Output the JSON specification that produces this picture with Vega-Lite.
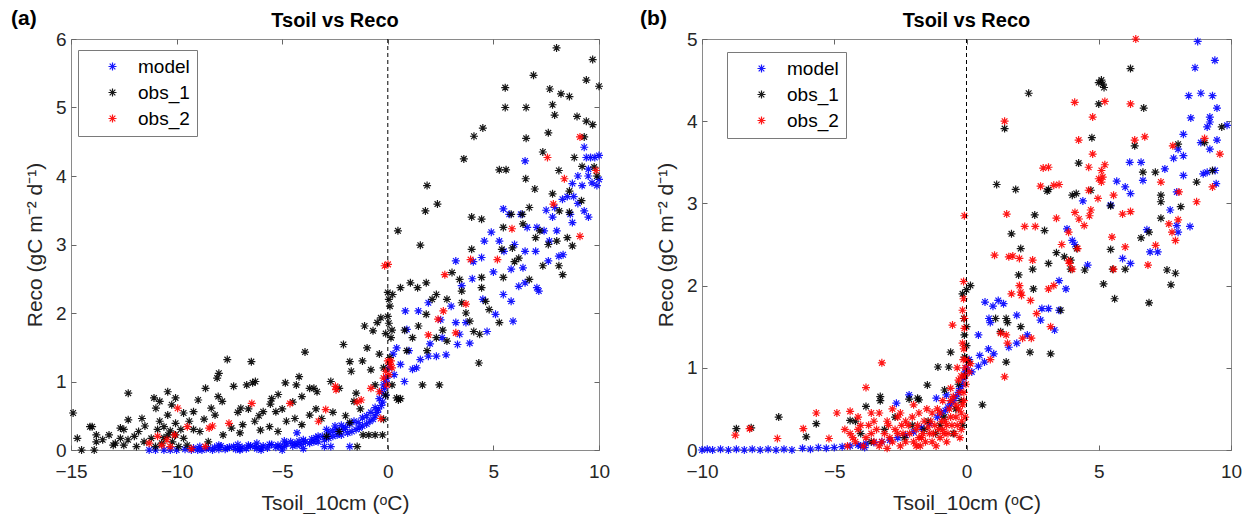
{
"$schema": "https://vega.github.io/schema/vega-lite/v6.json",
"padding": {"left": 10, "top": 7, "right": 0, "bottom": 0},
"config": {
 "font": "Liberation Sans",
 "view": {"stroke": "#8a8a8a", "strokeWidth": 1},
 "axis": {"grid": false, "domain": false, "tickSize": -5, "tickColor": "#666666", "labelFontSize": 19, "labelColor": "#262626", "labelFlush": false, "labelOverlap": false, "titleFontSize": 21, "titleFontWeight": "normal", "titleColor": "#262626"},
 "axisX": {"labelPadding": 17, "titlePadding": 11},
 "axisY": {"labelPadding": 10, "titlePadding": 10},
 "legend": {"orient": "none", "strokeColor": "#7a7a7a", "fillColor": "#ffffff", "padding": 7, "symbolOffset": 18, "labelOffset": 16, "labelFontSize": 19, "labelColor": "#000000", "rowPadding": 6, "symbolSize": 64, "symbolStrokeWidth": 1.2, "symbolType": "M-1,0L1,0M0,-1L0,1M-0.71,-0.71L0.71,0.71M-0.71,0.71L0.71,-0.71"}
},
"spacing": 28,
"resolve": {"scale": {"color": "independent"}, "legend": {"color": "independent"}},
"datasets": {
"a": [
{"s":"model","x":9.3,"y":4.42},{"s":"model","x":9.4,"y":4.27},{"s":"model","x":9.6,"y":4.27},{"s":"model","x":9.8,"y":4.27},{"s":"model","x":10.0,"y":4.3},{"s":"model","x":9.49,"y":4.0},{"s":"model","x":9.67,"y":3.9},{"s":"model","x":9.9,"y":3.86},{"s":"model","x":9.2,"y":3.86},{"s":"model","x":8.74,"y":3.89},{"s":"model","x":8.27,"y":3.66},{"s":"model","x":7.9,"y":3.54},{"s":"model","x":7.8,"y":3.4},{"s":"model","x":9.3,"y":3.49},{"s":"model","x":9.5,"y":3.4},{"s":"model","x":8.64,"y":3.44},{"s":"model","x":8.74,"y":3.32},{"s":"model","x":7.06,"y":3.25},{"s":"model","x":7.4,"y":3.2},{"s":"model","x":7.65,"y":3.05},{"s":"model","x":6.6,"y":3.25},{"s":"model","x":6.3,"y":3.44},{"s":"model","x":6.5,"y":4.22},{"s":"model","x":5.47,"y":3.52},{"s":"model","x":5.75,"y":3.44},{"s":"model","x":4.9,"y":3.18},{"s":"model","x":4.57,"y":3.05},{"s":"model","x":5.28,"y":3.05},{"s":"model","x":3.22,"y":2.76},{"s":"model","x":4.44,"y":2.81},{"s":"model","x":4.05,"y":2.75},{"s":"model","x":5.84,"y":2.64},{"s":"model","x":6.4,"y":2.66},{"s":"model","x":6.2,"y":2.39},{"s":"model","x":6.5,"y":2.44},{"s":"model","x":7.06,"y":2.37},{"s":"model","x":7.15,"y":2.32},{"s":"model","x":7.6,"y":2.76},{"s":"model","x":8.1,"y":2.83},{"s":"model","x":8.3,"y":2.85},{"s":"model","x":5.47,"y":2.27},{"s":"model","x":5.84,"y":2.17},{"s":"model","x":5.93,"y":1.88},{"s":"model","x":5.1,"y":1.98},{"s":"model","x":4.7,"y":1.73},{"s":"model","x":3.22,"y":1.86},{"s":"model","x":3.7,"y":1.86},{"s":"model","x":3.4,"y":1.69},{"s":"model","x":2.57,"y":1.64},{"s":"model","x":3.3,"y":1.54},{"s":"model","x":3.88,"y":1.56},{"s":"model","x":2.76,"y":1.39},{"s":"model","x":2.3,"y":1.37},{"s":"model","x":1.92,"y":1.37},{"s":"model","x":1.54,"y":1.32},{"s":"model","x":1.36,"y":1.2},{"s":"model","x":1.17,"y":1.18},{"s":"model","x":0.79,"y":1.0},{"s":"model","x":0.83,"y":2.03},{"s":"model","x":1.45,"y":2.03},{"s":"model","x":1.92,"y":2.15},{"s":"model","x":0.9,"y":1.76},{"s":"model","x":0.42,"y":1.49},{"s":"model","x":0.25,"y":1.4},{"s":"model","x":0.05,"y":1.2},{"s":"model","x":-0.05,"y":1.05},{"s":"model","x":-0.15,"y":0.9},{"s":"model","x":-0.25,"y":0.7},{"s":"model","x":-0.45,"y":0.6},{"s":"model","x":-0.6,"y":0.5},{"s":"model","x":-0.85,"y":0.42},{"s":"model","x":-1.2,"y":0.35},{"s":"model","x":-1.5,"y":0.3},{"s":"model","x":-1.9,"y":0.25},{"s":"model","x":-2.2,"y":0.22},{"s":"model","x":-2.6,"y":0.2},{"s":"model","x":-3.0,"y":0.15},{"s":"model","x":-3.3,"y":0.12},{"s":"model","x":-3.7,"y":0.1},{"s":"model","x":-4.1,"y":0.08},{"s":"model","x":-4.5,"y":0.06},{"s":"model","x":-4.9,"y":0.05},{"s":"model","x":-5.3,"y":0.04},{"s":"model","x":-5.7,"y":0.03},{"s":"model","x":-6.2,"y":0.02},{"s":"model","x":-6.7,"y":0.02},{"s":"model","x":-7.2,"y":0.01},{"s":"model","x":-7.7,"y":0.01},{"s":"model","x":-8.3,"y":0.0},{"s":"model","x":-8.8,"y":0.0},{"s":"model","x":-9.3,"y":0.0},{"s":"model","x":-10.0,"y":0.0},{"s":"model","x":-10.6,"y":0.0},{"s":"model","x":-1.8,"y":0.05},{"s":"model","x":-0.1,"y":0.8},{"s":"model","x":-0.3,"y":0.65},{"s":"model","x":-0.5,"y":0.55},{"s":"model","x":-0.7,"y":0.45},{"s":"model","x":-1.0,"y":0.38},{"s":"model","x":-1.35,"y":0.32},{"s":"model","x":-1.7,"y":0.27},{"s":"model","x":-2.4,"y":0.22},{"s":"model","x":-2.8,"y":0.17},{"s":"model","x":-3.5,"y":0.12},{"s":"model","x":-4.3,"y":0.07},{"s":"model","x":-5.1,"y":0.05},{"s":"model","x":-6.0,"y":0.03},{"s":"model","x":-7.0,"y":0.02},{"s":"model","x":-8.0,"y":0.01},{"s":"model","x":-9.0,"y":0.0},{"s":"model","x":-2.9,"y":0.3},{"s":"model","x":-2.5,"y":0.35},{"s":"model","x":-2.1,"y":0.3},{"s":"model","x":-3.3,"y":0.2},{"s":"model","x":-4.0,"y":0.15},{"s":"model","x":-4.6,"y":0.12},{"s":"model","x":-5.5,"y":0.08},{"s":"model","x":-6.5,"y":0.06},{"s":"model","x":-7.5,"y":0.04},{"s":"model","x":-8.5,"y":0.03},{"s":"model","x":-3.0,"y":0.05},{"s":"model","x":-5.0,"y":0.0},{"s":"model","x":-6.0,"y":0.0},{"s":"model","x":-7.0,"y":0.0},{"s":"model","x":-4.0,"y":0.02},{"s":"model","x":0.3,"y":1.1},{"s":"model","x":0.6,"y":1.25},{"s":"model","x":1.0,"y":1.45},{"s":"model","x":2.0,"y":1.55},{"s":"model","x":2.5,"y":1.9},{"s":"model","x":3.0,"y":2.1},{"s":"model","x":3.5,"y":2.4},{"s":"model","x":4.0,"y":2.5},{"s":"model","x":4.5,"y":2.2},{"s":"model","x":5.0,"y":2.6},{"s":"model","x":5.5,"y":2.9},{"s":"model","x":6.0,"y":3.0},{"s":"model","x":6.5,"y":2.9},{"s":"model","x":7.0,"y":2.9},{"s":"model","x":7.5,"y":3.5},{"s":"model","x":8.0,"y":3.2},{"s":"model","x":8.5,"y":3.7},{"s":"model","x":9.0,"y":3.6},{"s":"model","x":9.5,"y":4.1},{"s":"model","x":10.0,"y":3.95},{"s":"model","x":9.0,"y":4.0},{"s":"model","x":8.8,"y":3.7},
{"s":"model","x":-9.2,"y":0.03},{"s":"model","x":-8.9,"y":0.05},{"s":"model","x":-8.6,"y":0.02},{"s":"model","x":-8.2,"y":0.04},{"s":"model","x":-7.9,"y":0.06},{"s":"model","x":-7.6,"y":0.03},{"s":"model","x":-7.3,"y":0.05},{"s":"model","x":-6.9,"y":0.04},{"s":"model","x":-6.6,"y":0.07},{"s":"model","x":-6.3,"y":0.05},{"s":"model","x":-5.9,"y":0.06},{"s":"model","x":-5.6,"y":0.08},{"s":"model","x":-5.2,"y":0.07},{"s":"model","x":-4.8,"y":0.09},{"s":"model","x":-4.4,"y":0.1},{"s":"model","x":-4.2,"y":0.13},{"s":"model","x":-3.9,"y":0.12},{"s":"model","x":-3.6,"y":0.16},{"s":"model","x":-3.4,"y":0.18},{"s":"model","x":-3.1,"y":0.2},{"s":"model","x":-2.8,"y":0.25},{"s":"model","x":-2.6,"y":0.28},{"s":"model","x":-2.4,"y":0.3},{"s":"model","x":-2.2,"y":0.36},{"s":"model","x":-2.0,"y":0.33},{"s":"model","x":-1.8,"y":0.38},{"s":"model","x":-1.6,"y":0.42},{"s":"model","x":-1.4,"y":0.4},{"s":"model","x":-1.2,"y":0.47},{"s":"model","x":-1.0,"y":0.5},{"s":"model","x":-0.8,"y":0.55},{"s":"model","x":-0.6,"y":0.62},{"s":"model","x":-0.4,"y":0.75},{"s":"model","x":-0.3,"y":0.85},{"s":"model","x":-0.2,"y":0.95},{"s":"model","x":-0.1,"y":1.0},{"s":"model","x":-4.3,"y":0.25},{"s":"model","x":-2.7,"y":0.05},{"s":"model","x":-4.9,"y":0.13},{"s":"model","x":-6.2,"y":0.1},{"s":"model","x":-7.1,"y":0.08},{"s":"model","x":-8.0,"y":0.07},{"s":"model","x":-9.6,"y":0.01},{"s":"model","x":-10.3,"y":0.0},{"s":"model","x":-11.0,"y":0.0},{"s":"model","x":-11.3,"y":0.0},
{"s":"obs_1","x":7.99,"y":5.87},{"s":"obs_1","x":9.7,"y":5.7},{"s":"obs_1","x":6.9,"y":5.47},{"s":"obs_1","x":5.56,"y":5.29},{"s":"obs_1","x":7.67,"y":5.27},{"s":"obs_1","x":9.4,"y":5.4},{"s":"obs_1","x":10.0,"y":5.31},{"s":"obs_1","x":5.56,"y":5.0},{"s":"obs_1","x":6.55,"y":5.0},{"s":"obs_1","x":8.2,"y":5.2},{"s":"obs_1","x":8.6,"y":5.16},{"s":"obs_1","x":7.8,"y":5.04},{"s":"obs_1","x":7.9,"y":4.89},{"s":"obs_1","x":8.96,"y":4.87},{"s":"obs_1","x":9.4,"y":4.8},{"s":"obs_1","x":9.7,"y":4.75},{"s":"obs_1","x":4.5,"y":4.7},{"s":"obs_1","x":4.08,"y":4.58},{"s":"obs_1","x":7.6,"y":4.63},{"s":"obs_1","x":6.55,"y":4.55},{"s":"obs_1","x":9.3,"y":4.57},{"s":"obs_1","x":3.6,"y":4.25},{"s":"obs_1","x":7.34,"y":4.35},{"s":"obs_1","x":8.83,"y":4.27},{"s":"obs_1","x":5.28,"y":4.09},{"s":"obs_1","x":5.6,"y":4.09},{"s":"obs_1","x":8.1,"y":4.08},{"s":"obs_1","x":6.53,"y":3.96},{"s":"obs_1","x":9.2,"y":4.14},{"s":"obs_1","x":9.77,"y":4.13},{"s":"obs_1","x":9.9,"y":4.0},{"s":"obs_1","x":1.86,"y":3.86},{"s":"obs_1","x":2.35,"y":3.59},{"s":"obs_1","x":1.78,"y":3.49},{"s":"obs_1","x":6.96,"y":3.81},{"s":"obs_1","x":7.8,"y":3.74},{"s":"obs_1","x":8.6,"y":3.78},{"s":"obs_1","x":9.17,"y":3.64},{"s":"obs_1","x":3.97,"y":3.4},{"s":"obs_1","x":4.44,"y":3.37},{"s":"obs_1","x":6.37,"y":3.44},{"s":"obs_1","x":6.7,"y":3.54},{"s":"obs_1","x":5.84,"y":3.44},{"s":"obs_1","x":8.12,"y":3.49},{"s":"obs_1","x":8.6,"y":3.47},{"s":"obs_1","x":0.48,"y":3.2},{"s":"obs_1","x":5.47,"y":3.25},{"s":"obs_1","x":7.2,"y":3.2},{"s":"obs_1","x":7.0,"y":3.1},{"s":"obs_1","x":1.54,"y":2.99},{"s":"obs_1","x":3.97,"y":2.93},{"s":"obs_1","x":5.4,"y":2.93},{"s":"obs_1","x":8.0,"y":3.05},{"s":"obs_1","x":8.74,"y":2.98},{"s":"obs_1","x":8.1,"y":2.69},{"s":"obs_1","x":7.34,"y":2.69},{"s":"obs_1","x":8.28,"y":2.56},{"s":"obs_1","x":5.47,"y":2.52},{"s":"obs_1","x":6.7,"y":2.49},{"s":"obs_1","x":0.6,"y":2.37},{"s":"obs_1","x":1.07,"y":2.44},{"s":"obs_1","x":1.41,"y":2.37},{"s":"obs_1","x":1.82,"y":2.44},{"s":"obs_1","x":3.04,"y":2.59},{"s":"obs_1","x":3.4,"y":2.49},{"s":"obs_1","x":4.44,"y":2.52},{"s":"obs_1","x":3.5,"y":2.32},{"s":"obs_1","x":2.3,"y":2.27},{"s":"obs_1","x":2.1,"y":2.2},{"s":"obs_1","x":2.8,"y":2.2},{"s":"obs_1","x":4.44,"y":2.37},{"s":"obs_1","x":4.63,"y":2.17},{"s":"obs_1","x":3.5,"y":2.15},{"s":"obs_1","x":1.82,"y":1.98},{"s":"obs_1","x":1.45,"y":1.81},{"s":"obs_1","x":5.28,"y":1.86},{"s":"obs_1","x":3.88,"y":1.88},{"s":"obs_1","x":4.07,"y":1.73},{"s":"obs_1","x":4.35,"y":1.69},{"s":"obs_1","x":2.8,"y":1.59},{"s":"obs_1","x":1.17,"y":1.64},{"s":"obs_1","x":2.3,"y":1.64},{"s":"obs_1","x":4.31,"y":1.27},{"s":"obs_1","x":1.86,"y":1.45},{"s":"obs_1","x":1.64,"y":0.95},{"s":"obs_1","x":2.44,"y":0.95},{"s":"obs_1","x":0.8,"y":1.75},{"s":"obs_1","x":6.0,"y":2.75},{"s":"obs_1","x":5.9,"y":2.95},{"s":"obs_1","x":6.4,"y":3.3},{"s":"obs_1","x":7.6,"y":3.0},{"s":"obs_1","x":8.5,"y":3.1},{"s":"obs_1","x":6.2,"y":2.8},{"s":"obs_1","x":4.8,"y":2.05},{"s":"obs_1","x":3.7,"y":2.0},{"s":"obs_1","x":2.6,"y":1.75},{"s":"obs_1","x":0.9,"y":1.45},{"s":"obs_1","x":0.6,"y":0.75},
{"s":"obs_1","x":0.23,"y":2.27},{"s":"obs_1","x":0.0,"y":2.3},{"s":"obs_1","x":0.05,"y":2.2},{"s":"obs_1","x":0.1,"y":2.1},{"s":"obs_1","x":0.0,"y":1.95},{"s":"obs_1","x":0.05,"y":1.85},{"s":"obs_1","x":0.2,"y":1.75},{"s":"obs_1","x":0.15,"y":1.64},{"s":"obs_1","x":-0.1,"y":1.7},{"s":"obs_1","x":-0.33,"y":1.93},{"s":"obs_1","x":-0.5,"y":1.86},{"s":"obs_1","x":-0.7,"y":1.74},{"s":"obs_1","x":-1.1,"y":1.81},{"s":"obs_1","x":-0.98,"y":1.49},{"s":"obs_1","x":-2.1,"y":1.54},{"s":"obs_1","x":-0.8,"y":1.17},{"s":"obs_1","x":-1.8,"y":1.29},{"s":"obs_1","x":-1.73,"y":1.15},{"s":"obs_1","x":-1.2,"y":1.3},{"s":"obs_1","x":-1.5,"y":0.83},{"s":"obs_1","x":-1.17,"y":0.22},{"s":"obs_1","x":-0.9,"y":0.22},{"s":"obs_1","x":-0.6,"y":0.22},{"s":"obs_1","x":-0.25,"y":0.22},{"s":"obs_1","x":-1.45,"y":0.05},{"s":"obs_1","x":-0.2,"y":0.45},{"s":"obs_1","x":-0.1,"y":0.8},{"s":"obs_1","x":0.2,"y":0.95},{"s":"obs_1","x":0.42,"y":0.76},{"s":"obs_1","x":0.5,"y":0.73},{"s":"obs_1","x":-2.7,"y":1.0},{"s":"obs_1","x":-2.3,"y":0.9},{"s":"obs_1","x":-1.6,"y":0.71},{"s":"obs_1","x":-0.4,"y":1.4},{"s":"obs_1","x":-0.2,"y":1.2},{"s":"obs_1","x":0.1,"y":1.35},{"s":"obs_1","x":-0.6,"y":0.95},{"s":"obs_1","x":-1.3,"y":0.6},{"s":"obs_1","x":-2.0,"y":0.5},{"s":"obs_1","x":-1.8,"y":0.4},{"s":"obs_1","x":-2.6,"y":0.55},
{"s":"obs_1","x":-3.92,"y":1.43},{"s":"obs_1","x":-4.2,"y":1.07},{"s":"obs_1","x":-4.33,"y":0.95},{"s":"obs_1","x":-4.85,"y":0.98},{"s":"obs_1","x":-3.7,"y":0.9},{"s":"obs_1","x":-3.5,"y":0.9},{"s":"obs_1","x":-3.35,"y":0.85},{"s":"obs_1","x":-4.07,"y":0.78},{"s":"obs_1","x":-5.19,"y":0.81},{"s":"obs_1","x":-5.5,"y":0.75},{"s":"obs_1","x":-5.56,"y":0.67},{"s":"obs_1","x":-5.9,"y":0.56},{"s":"obs_1","x":-5.3,"y":0.56},{"s":"obs_1","x":-6.4,"y":0.98},{"s":"obs_1","x":-6.46,"y":1.29},{"s":"obs_1","x":-6.27,"y":1.0},{"s":"obs_1","x":-6.68,"y":0.95},{"s":"obs_1","x":-6.96,"y":0.61},{"s":"obs_1","x":-7.1,"y":0.55},{"s":"obs_1","x":-7.6,"y":1.32},{"s":"obs_1","x":-7.3,"y":0.93},{"s":"obs_1","x":-8.08,"y":1.05},{"s":"obs_1","x":-8.0,"y":1.12},{"s":"obs_1","x":-8.63,"y":0.9},{"s":"obs_1","x":-8.03,"y":0.78},{"s":"obs_1","x":-7.84,"y":0.71},{"s":"obs_1","x":-8.36,"y":0.61},{"s":"obs_1","x":-8.18,"y":0.51},{"s":"obs_1","x":-8.98,"y":0.73},{"s":"obs_1","x":-9.2,"y":0.56},{"s":"obs_1","x":-9.4,"y":0.42},{"s":"obs_1","x":-9.67,"y":0.54},{"s":"obs_1","x":-10.05,"y":0.76},{"s":"obs_1","x":-10.42,"y":0.85},{"s":"obs_1","x":-10.23,"y":0.66},{"s":"obs_1","x":-10.42,"y":0.51},{"s":"obs_1","x":-10.8,"y":0.71},{"s":"obs_1","x":-10.98,"y":0.61},{"s":"obs_1","x":-11.07,"y":0.76},{"s":"obs_1","x":-10.8,"y":0.42},{"s":"obs_1","x":-10.6,"y":0.34},{"s":"obs_1","x":-10.05,"y":0.39},{"s":"obs_1","x":-10.3,"y":0.28},{"s":"obs_1","x":-11.64,"y":0.46},{"s":"obs_1","x":-12.29,"y":0.83},{"s":"obs_1","x":-12.29,"y":0.44},{"s":"obs_1","x":-11.8,"y":0.27},{"s":"obs_1","x":-12.66,"y":0.32},{"s":"obs_1","x":-13.2,"y":0.22},{"s":"obs_1","x":-12.66,"y":0.17},{"s":"obs_1","x":-12.3,"y":0.15},{"s":"obs_1","x":-13.8,"y":0.12},{"s":"obs_1","x":-14.0,"y":0.34},{"s":"obs_1","x":-14.1,"y":0.34},{"s":"obs_1","x":-13.8,"y":0.22},{"s":"obs_1","x":-14.7,"y":0.17},{"s":"obs_1","x":-14.9,"y":0.54},{"s":"obs_1","x":-14.5,"y":0.0},{"s":"obs_1","x":-13.9,"y":0.0},{"s":"obs_1","x":-13.0,"y":0.07},{"s":"obs_1","x":-12.5,"y":0.07},{"s":"obs_1","x":-11.54,"y":0.12},{"s":"obs_1","x":-11.2,"y":0.17},{"s":"obs_1","x":-10.4,"y":0.22},{"s":"obs_1","x":-10.05,"y":0.22},{"s":"obs_1","x":-9.67,"y":0.17},{"s":"obs_1","x":-9.5,"y":0.07},{"s":"obs_1","x":-8.9,"y":0.27},{"s":"obs_1","x":-8.5,"y":0.12},{"s":"obs_1","x":-7.8,"y":0.22},{"s":"obs_1","x":-7.4,"y":0.32},{"s":"obs_1","x":-6.87,"y":0.37},{"s":"obs_1","x":-6.3,"y":0.42},{"s":"obs_1","x":-6.03,"y":0.29},{"s":"obs_1","x":-5.6,"y":0.34},{"s":"obs_1","x":-5.2,"y":0.27},{"s":"obs_1","x":-4.8,"y":0.42},{"s":"obs_1","x":-4.4,"y":0.46},{"s":"obs_1","x":-4.07,"y":0.37},{"s":"obs_1","x":-3.7,"y":0.51},{"s":"obs_1","x":-3.13,"y":0.46},{"s":"obs_1","x":-2.9,"y":0.2},{"s":"obs_1","x":-2.3,"y":0.27},{"s":"obs_1","x":-11.0,"y":0.05},{"s":"obs_1","x":-10.7,"y":0.1},{"s":"obs_1","x":-11.9,"y":0.05},{"s":"obs_1","x":-12.0,"y":0.2},{"s":"obs_1","x":-12.9,"y":0.1},{"s":"obs_1","x":-13.5,"y":0.15},{"s":"obs_1","x":-9.9,"y":0.05},{"s":"obs_1","x":-9.2,"y":0.3},{"s":"obs_1","x":-8.7,"y":0.45},{"s":"obs_1","x":-7.0,"y":0.25},{"s":"obs_1","x":-6.6,"y":0.6},{"s":"obs_1","x":-6.1,"y":0.5},{"s":"obs_1","x":-5.0,"y":0.6},{"s":"obs_1","x":-4.5,"y":0.7},{"s":"obs_1","x":-3.4,"y":0.6},{"s":"obs_1","x":-10.9,"y":0.3},{"s":"obs_1","x":-11.5,"y":0.35},{"s":"obs_1","x":-12.5,"y":0.3},{"s":"obs_1","x":-10.2,"y":0.12},{"s":"obs_1","x":-10.6,"y":0.18},{"s":"obs_1","x":-9.8,"y":0.3},
{"s":"obs_2","x":9.1,"y":4.57},{"s":"obs_2","x":7.56,"y":4.27},{"s":"obs_2","x":8.36,"y":3.96},{"s":"obs_2","x":7.84,"y":3.59},{"s":"obs_2","x":9.86,"y":4.08},{"s":"obs_2","x":5.88,"y":3.23},{"s":"obs_2","x":9.1,"y":3.12},{"s":"obs_2","x":5.19,"y":2.78},{"s":"obs_2","x":3.92,"y":2.78},{"s":"obs_2","x":2.7,"y":2.56},{"s":"obs_2","x":2.63,"y":2.03},{"s":"obs_2","x":2.38,"y":1.91},{"s":"obs_2","x":3.7,"y":2.13},{"s":"obs_2","x":3.22,"y":1.71},{"s":"obs_2","x":1.92,"y":1.68},{"s":"obs_2","x":-0.15,"y":2.69},{"s":"obs_2","x":0.01,"y":2.71},{"s":"obs_2","x":0.0,"y":1.3},{"s":"obs_2","x":0.1,"y":1.25},{"s":"obs_2","x":0.2,"y":1.2},{"s":"obs_2","x":-0.1,"y":1.15},{"s":"obs_2","x":0.05,"y":1.1},{"s":"obs_2","x":-0.2,"y":1.05},{"s":"obs_2","x":0.15,"y":1.3},{"s":"obs_2","x":-0.05,"y":0.95},{"s":"obs_2","x":-0.4,"y":0.85},{"s":"obs_2","x":-0.8,"y":0.9},{"s":"obs_2","x":-1.26,"y":0.73},{"s":"obs_2","x":-1.45,"y":0.7},{"s":"obs_2","x":-0.33,"y":0.46},{"s":"obs_2","x":-2.48,"y":0.93},{"s":"obs_2","x":-2.45,"y":0.88},{"s":"obs_2","x":-2.94,"y":0.59},{"s":"obs_2","x":-3.28,"y":0.42},{"s":"obs_2","x":-4.63,"y":0.68},{"s":"obs_2","x":-6.44,"y":0.68},{"s":"obs_2","x":-7.52,"y":0.39},{"s":"obs_2","x":-8.46,"y":0.32},{"s":"obs_2","x":-8.64,"y":0.05},{"s":"obs_2","x":-9.49,"y":0.34},{"s":"obs_2","x":-9.3,"y":0.02},{"s":"obs_2","x":-9.95,"y":0.61},{"s":"obs_2","x":-10.46,"y":0.15},{"s":"obs_2","x":-10.7,"y":0.07},{"s":"obs_2","x":-10.9,"y":0.2},{"s":"obs_2","x":-10.1,"y":0.22},{"s":"obs_2","x":-10.3,"y":0.05},{"s":"obs_2","x":-11.3,"y":0.1},{"s":"obs_2","x":-8.3,"y":0.35}
],
"b": [
{"s":"model","x":8.74,"y":4.97},{"s":"model","x":9.39,"y":4.74},{"s":"model","x":8.64,"y":4.65},{"s":"model","x":9.3,"y":4.31},{"s":"model","x":8.86,"y":4.34},{"s":"model","x":8.4,"y":4.31},{"s":"model","x":9.47,"y":4.16},{"s":"model","x":8.48,"y":4.04},{"s":"model","x":9.2,"y":4.05},{"s":"model","x":9.2,"y":3.99},{"s":"model","x":9.1,"y":3.93},{"s":"model","x":9.47,"y":3.77},{"s":"model","x":8.86,"y":3.74},{"s":"model","x":9.85,"y":3.95},{"s":"model","x":8.2,"y":3.84},{"s":"model","x":8.0,"y":3.66},{"s":"model","x":8.2,"y":3.58},{"s":"model","x":7.83,"y":3.55},{"s":"model","x":9.2,"y":3.66},{"s":"model","x":9.1,"y":3.38},{"s":"model","x":9.4,"y":3.4},{"s":"model","x":8.95,"y":3.36},{"s":"model","x":9.44,"y":3.24},{"s":"model","x":8.2,"y":3.34},{"s":"model","x":6.17,"y":3.5},{"s":"model","x":6.6,"y":3.5},{"s":"model","x":7.5,"y":3.42},{"s":"model","x":6.67,"y":3.28},{"s":"model","x":5.68,"y":3.27},{"s":"model","x":6.0,"y":3.2},{"s":"model","x":6.2,"y":3.12},{"s":"model","x":4.4,"y":3.03},{"s":"model","x":5.45,"y":2.98},{"s":"model","x":7.95,"y":3.14},{"s":"model","x":7.7,"y":2.92},{"s":"model","x":7.95,"y":2.73},{"s":"model","x":8.45,"y":2.72},{"s":"model","x":8.0,"y":2.65},{"s":"model","x":6.82,"y":2.68},{"s":"model","x":6.94,"y":2.41},{"s":"model","x":7.23,"y":2.41},{"s":"model","x":5.9,"y":2.33},{"s":"model","x":6.2,"y":2.27},{"s":"model","x":4.58,"y":2.25},{"s":"model","x":3.8,"y":2.69},{"s":"model","x":4.0,"y":2.55},{"s":"model","x":4.1,"y":2.5},{"s":"model","x":3.5,"y":2.06},{"s":"model","x":3.76,"y":1.96},{"s":"model","x":2.85,"y":1.72},{"s":"model","x":3.1,"y":1.72},{"s":"model","x":3.5,"y":1.7},{"s":"model","x":3.33,"y":1.46},{"s":"model","x":2.8,"y":1.58},{"s":"model","x":2.3,"y":1.4},{"s":"model","x":1.9,"y":1.64},{"s":"model","x":1.2,"y":1.82},{"s":"model","x":1.0,"y":1.75},{"s":"model","x":1.4,"y":1.78},{"s":"model","x":0.7,"y":1.8},{"s":"model","x":0.85,"y":1.6},{"s":"model","x":0.9,"y":1.55},{"s":"model","x":0.45,"y":1.4},{"s":"model","x":0.83,"y":1.23},{"s":"model","x":1.03,"y":1.17},{"s":"model","x":0.5,"y":1.15},{"s":"model","x":0.68,"y":1.07},{"s":"model","x":0.45,"y":1.02},{"s":"model","x":0.2,"y":0.95},{"s":"model","x":1.6,"y":1.25},{"s":"model","x":1.9,"y":1.3},{"s":"model","x":-0.76,"y":0.67},{"s":"model","x":-1.14,"y":0.63},{"s":"model","x":-2.17,"y":0.67},{"s":"model","x":-2.65,"y":0.57},{"s":"model","x":-4.0,"y":0.05},{"s":"model","x":-3.85,"y":0.03},{"s":"model","x":-10.0,"y":0.0},{"s":"model","x":-9.8,"y":0.01},{"s":"model","x":-9.6,"y":0.0},{"s":"model","x":-9.3,"y":0.01},{"s":"model","x":-9.0,"y":0.0},{"s":"model","x":-8.7,"y":0.01},{"s":"model","x":-8.4,"y":0.0},{"s":"model","x":-8.1,"y":0.01},{"s":"model","x":-7.8,"y":0.0},{"s":"model","x":-7.5,"y":0.01},{"s":"model","x":-7.2,"y":0.0},{"s":"model","x":-6.9,"y":0.01},{"s":"model","x":-6.6,"y":0.0},{"s":"model","x":-6.2,"y":0.02},{"s":"model","x":-5.9,"y":0.01},{"s":"model","x":-5.6,"y":0.03},{"s":"model","x":-5.3,"y":0.02},{"s":"model","x":-5.0,"y":0.03},{"s":"model","x":-4.7,"y":0.04},{"s":"model","x":-4.4,"y":0.05},{"s":"model","x":-4.1,"y":0.06},{"s":"model","x":-3.8,"y":0.08},{"s":"model","x":-3.5,"y":0.09},{"s":"model","x":-3.2,"y":0.1},{"s":"model","x":-2.9,"y":0.12},{"s":"model","x":-2.6,"y":0.15},{"s":"model","x":-2.3,"y":0.18},{"s":"model","x":-2.0,"y":0.22},{"s":"model","x":-1.7,"y":0.27},{"s":"model","x":-1.4,"y":0.32},{"s":"model","x":-1.1,"y":0.4},{"s":"model","x":-0.8,"y":0.48},{"s":"model","x":-0.6,"y":0.56},{"s":"model","x":-0.4,"y":0.65},{"s":"model","x":-0.25,"y":0.75},{"s":"model","x":-0.1,"y":0.88},{"s":"model","x":0.0,"y":1.0},{"s":"model","x":0.1,"y":1.1},{"s":"model","x":-0.05,"y":0.95},{"s":"model","x":-0.15,"y":0.8},{"s":"model","x":-0.3,"y":0.7},{"s":"model","x":-0.5,"y":0.6},{"s":"model","x":-0.7,"y":0.52},{"s":"model","x":-0.95,"y":0.45},
{"s":"obs_1","x":2.35,"y":4.34},{"s":"obs_1","x":5.1,"y":4.5},{"s":"obs_1","x":5.15,"y":4.45},{"s":"obs_1","x":5.2,"y":4.41},{"s":"obs_1","x":5.0,"y":4.47},{"s":"obs_1","x":5.0,"y":4.21},{"s":"obs_1","x":6.2,"y":4.64},{"s":"obs_1","x":6.7,"y":4.16},{"s":"obs_1","x":6.36,"y":3.7},{"s":"obs_1","x":1.44,"y":3.91},{"s":"obs_1","x":4.74,"y":3.8},{"s":"obs_1","x":4.24,"y":3.49},{"s":"obs_1","x":1.14,"y":3.23},{"s":"obs_1","x":1.86,"y":3.17},{"s":"obs_1","x":3.1,"y":3.17},{"s":"obs_1","x":3.05,"y":3.15},{"s":"obs_1","x":4.7,"y":3.16},{"s":"obs_1","x":4.0,"y":3.1},{"s":"obs_1","x":4.15,"y":3.12},{"s":"obs_1","x":7.35,"y":3.1},{"s":"obs_1","x":6.67,"y":3.38},{"s":"obs_1","x":7.14,"y":3.38},{"s":"obs_1","x":8.7,"y":3.26},{"s":"obs_1","x":9.3,"y":3.4},{"s":"obs_1","x":7.35,"y":3.02},{"s":"obs_1","x":8.1,"y":2.96},{"s":"obs_1","x":9.65,"y":3.93},{"s":"obs_1","x":9.0,"y":3.74},{"s":"obs_1","x":8.0,"y":3.72},{"s":"obs_1","x":5.45,"y":2.97},{"s":"obs_1","x":2.58,"y":2.86},{"s":"obs_1","x":1.7,"y":2.63},{"s":"obs_1","x":2.95,"y":2.67},{"s":"obs_1","x":7.35,"y":2.82},{"s":"obs_1","x":6.6,"y":2.58},{"s":"obs_1","x":6.9,"y":2.65},{"s":"obs_1","x":5.45,"y":2.44},{"s":"obs_1","x":3.4,"y":2.4},{"s":"obs_1","x":3.7,"y":2.35},{"s":"obs_1","x":4.17,"y":2.45},{"s":"obs_1","x":2.05,"y":2.45},{"s":"obs_1","x":2.5,"y":2.2},{"s":"obs_1","x":3.1,"y":2.27},{"s":"obs_1","x":3.94,"y":2.31},{"s":"obs_1","x":3.94,"y":2.2},{"s":"obs_1","x":4.47,"y":2.19},{"s":"obs_1","x":5.53,"y":2.2},{"s":"obs_1","x":6.0,"y":2.2},{"s":"obs_1","x":7.58,"y":2.19},{"s":"obs_1","x":7.9,"y":2.15},{"s":"obs_1","x":7.73,"y":2.01},{"s":"obs_1","x":5.18,"y":2.02},{"s":"obs_1","x":5.6,"y":1.84},{"s":"obs_1","x":6.9,"y":1.79},{"s":"obs_1","x":2.53,"y":1.96},{"s":"obs_1","x":1.97,"y":2.13},{"s":"obs_1","x":3.56,"y":1.7},{"s":"obs_1","x":1.5,"y":1.6},{"s":"obs_1","x":1.55,"y":1.55},{"s":"obs_1","x":2.05,"y":1.5},{"s":"obs_1","x":1.29,"y":1.44},{"s":"obs_1","x":3.18,"y":1.17},{"s":"obs_1","x":2.4,"y":1.19},{"s":"obs_1","x":1.5,"y":1.07},{"s":"obs_1","x":1.1,"y":1.6},{"s":"obs_1","x":0.6,"y":0.55},{"s":"obs_1","x":-0.15,"y":1.9},{"s":"obs_1","x":0.0,"y":1.95},{"s":"obs_1","x":0.15,"y":2.0},{"s":"obs_1","x":-0.1,"y":1.6},{"s":"obs_1","x":0.0,"y":1.5},{"s":"obs_1","x":-0.08,"y":1.4},{"s":"obs_1","x":0.0,"y":1.27},{"s":"obs_1","x":-0.07,"y":1.13},{"s":"obs_1","x":0.08,"y":1.07},{"s":"obs_1","x":-0.08,"y":0.9},{"s":"obs_1","x":-0.6,"y":1.19},{"s":"obs_1","x":-0.67,"y":1.01},{"s":"obs_1","x":-1.08,"y":1.01},{"s":"obs_1","x":-0.83,"y":0.73},{"s":"obs_1","x":-1.48,"y":0.79},{"s":"obs_1","x":-1.8,"y":0.61},{"s":"obs_1","x":-1.85,"y":0.63},{"s":"obs_1","x":-2.17,"y":0.62},{"s":"obs_1","x":-3.26,"y":0.6},{"s":"obs_1","x":-3.26,"y":0.65},{"s":"obs_1","x":-3.8,"y":0.53},{"s":"obs_1","x":-4.4,"y":0.36},{"s":"obs_1","x":-4.2,"y":0.35},{"s":"obs_1","x":-5.68,"y":0.32},{"s":"obs_1","x":-6.06,"y":0.16},{"s":"obs_1","x":-7.1,"y":0.4},{"s":"obs_1","x":-8.14,"y":0.27},{"s":"obs_1","x":-8.7,"y":0.26},{"s":"obs_1","x":-1.17,"y":0.2},{"s":"obs_1","x":-2.35,"y":0.15},{"s":"obs_1","x":-3.1,"y":0.25},{"s":"obs_1","x":-3.6,"y":0.1},{"s":"obs_1","x":-2.05,"y":0.3},{"s":"obs_1","x":-1.45,"y":0.35},{"s":"obs_1","x":-0.85,"y":0.4},{"s":"obs_1","x":-0.4,"y":0.5},{"s":"obs_1","x":-0.15,"y":0.3},{"s":"obs_1","x":-0.2,"y":0.6},{"s":"obs_1","x":-0.3,"y":0.8},{"s":"obs_1","x":-2.7,"y":0.4},{"s":"obs_1","x":-1.6,"y":0.25},{"s":"obs_1","x":-4.0,"y":0.2},{"s":"obs_1","x":-0.5,"y":0.2},{"s":"obs_1","x":-1.0,"y":0.3},
{"s":"obs_2","x":6.4,"y":5.0},{"s":"obs_2","x":1.44,"y":4.0},{"s":"obs_2","x":4.09,"y":4.23},{"s":"obs_2","x":5.23,"y":4.24},{"s":"obs_2","x":6.2,"y":4.21},{"s":"obs_2","x":4.77,"y":4.05},{"s":"obs_2","x":4.24,"y":3.77},{"s":"obs_2","x":6.36,"y":3.77},{"s":"obs_2","x":6.74,"y":3.81},{"s":"obs_2","x":4.77,"y":3.6},{"s":"obs_2","x":4.62,"y":3.44},{"s":"obs_2","x":5.23,"y":3.47},{"s":"obs_2","x":2.9,"y":3.43},{"s":"obs_2","x":3.1,"y":3.44},{"s":"obs_2","x":5.0,"y":3.3},{"s":"obs_2","x":5.15,"y":3.32},{"s":"obs_2","x":5.1,"y":3.26},{"s":"obs_2","x":3.3,"y":3.22},{"s":"obs_2","x":3.5,"y":3.23},{"s":"obs_2","x":2.8,"y":3.21},{"s":"obs_2","x":5.56,"y":3.1},{"s":"obs_2","x":4.62,"y":3.16},{"s":"obs_2","x":4.97,"y":3.06},{"s":"obs_2","x":7.35,"y":3.26},{"s":"obs_2","x":8.03,"y":3.14},{"s":"obs_2","x":8.7,"y":3.02},{"s":"obs_2","x":9.0,"y":3.79},{"s":"obs_2","x":9.3,"y":3.2},{"s":"obs_2","x":9.58,"y":3.6},{"s":"obs_2","x":7.77,"y":2.65},{"s":"obs_2","x":7.15,"y":2.49},{"s":"obs_2","x":6.86,"y":2.25},{"s":"obs_2","x":7.65,"y":2.75},{"s":"obs_2","x":5.9,"y":2.87},{"s":"obs_2","x":6.0,"y":2.47},{"s":"obs_2","x":5.56,"y":2.2},{"s":"obs_2","x":5.5,"y":2.59},{"s":"obs_2","x":4.45,"y":2.73},{"s":"obs_2","x":4.25,"y":2.81},{"s":"obs_2","x":4.1,"y":2.89},{"s":"obs_2","x":4.65,"y":2.85},{"s":"obs_2","x":4.7,"y":2.92},{"s":"obs_2","x":3.86,"y":2.3},{"s":"obs_2","x":3.9,"y":2.27},{"s":"obs_2","x":4.0,"y":2.2},{"s":"obs_2","x":3.86,"y":2.65},{"s":"obs_2","x":3.4,"y":2.82},{"s":"obs_2","x":2.2,"y":2.72},{"s":"obs_2","x":2.6,"y":2.72},{"s":"obs_2","x":2.5,"y":2.31},{"s":"obs_2","x":1.52,"y":2.87},{"s":"obs_2","x":1.06,"y":2.37},{"s":"obs_2","x":1.6,"y":2.35},{"s":"obs_2","x":1.75,"y":2.36},{"s":"obs_2","x":2.0,"y":2.33},{"s":"obs_2","x":2.0,"y":2.0},{"s":"obs_2","x":2.05,"y":1.92},{"s":"obs_2","x":2.08,"y":1.88},{"s":"obs_2","x":2.42,"y":1.82},{"s":"obs_2","x":2.65,"y":1.66},{"s":"obs_2","x":3.1,"y":1.96},{"s":"obs_2","x":3.18,"y":1.5},{"s":"obs_2","x":1.29,"y":1.42},{"s":"obs_2","x":1.5,"y":1.4},{"s":"obs_2","x":2.12,"y":1.36},{"s":"obs_2","x":1.44,"y":0.89},{"s":"obs_2","x":2.45,"y":1.36},{"s":"obs_2","x":1.7,"y":1.9},{"s":"obs_2","x":1.55,"y":1.3},{"s":"obs_2","x":0.9,"y":1.1},{"s":"obs_2","x":3.3,"y":2.0},{"s":"obs_2","x":3.6,"y":2.5},{"s":"obs_2","x":4.2,"y":2.45},{"s":"obs_2","x":6.2,"y":2.9},{"s":"obs_2","x":5.1,"y":3.4},{"s":"obs_2","x":7.8,"y":3.7},{"s":"obs_2","x":8.0,"y":2.8},{"s":"obs_2","x":7.9,"y":2.55},{"s":"obs_2","x":-0.11,"y":1.84},{"s":"obs_2","x":-0.15,"y":1.7},{"s":"obs_2","x":-0.08,"y":1.48},{"s":"obs_2","x":-0.1,"y":1.23},{"s":"obs_2","x":0.0,"y":1.1},{"s":"obs_2","x":-0.05,"y":1.0},{"s":"obs_2","x":-0.2,"y":0.9},{"s":"obs_2","x":-0.53,"y":1.52},{"s":"obs_2","x":-0.11,"y":2.05},{"s":"obs_2","x":-0.08,"y":2.85},{"s":"obs_2","x":0.1,"y":0.95},{"s":"obs_2","x":0.15,"y":1.05},{"s":"obs_2","x":-0.3,"y":0.85},{"s":"obs_2","x":-0.25,"y":0.7},{"s":"obs_2","x":-0.1,"y":0.6},{"s":"obs_2","x":-0.4,"y":0.55},{"s":"obs_2","x":-0.2,"y":0.45},{"s":"obs_2","x":-0.05,"y":0.4},{"s":"obs_2","x":-0.35,"y":0.3},{"s":"obs_2","x":-0.6,"y":0.4},{"s":"obs_2","x":-0.8,"y":0.35},{"s":"obs_2","x":-0.7,"y":0.2},{"s":"obs_2","x":-0.9,"y":0.25},{"s":"obs_2","x":-1.0,"y":0.15},{"s":"obs_2","x":-1.2,"y":0.3},{"s":"obs_2","x":-1.4,"y":0.2},{"s":"obs_2","x":-1.3,"y":0.1},{"s":"obs_2","x":-1.6,"y":0.35},{"s":"obs_2","x":-1.7,"y":0.15},{"s":"obs_2","x":-1.9,"y":0.25},{"s":"obs_2","x":-2.0,"y":0.1},{"s":"obs_2","x":-2.2,"y":0.3},{"s":"obs_2","x":-2.4,"y":0.2},{"s":"obs_2","x":-2.5,"y":0.05},{"s":"obs_2","x":-2.7,"y":0.25},{"s":"obs_2","x":-2.9,"y":0.15},{"s":"obs_2","x":-3.0,"y":0.35},{"s":"obs_2","x":-3.2,"y":0.1},{"s":"obs_2","x":-3.4,"y":0.25},{"s":"obs_2","x":-3.6,"y":0.2},{"s":"obs_2","x":-3.8,"y":0.15},{"s":"obs_2","x":-4.0,"y":0.3},{"s":"obs_2","x":-4.2,"y":0.1},{"s":"obs_2","x":-4.4,"y":0.2},{"s":"obs_2","x":-4.5,"y":0.05},{"s":"obs_2","x":-3.3,"y":0.45},{"s":"obs_2","x":-2.6,"y":0.4},{"s":"obs_2","x":-1.8,"y":0.45},{"s":"obs_2","x":-1.1,"y":0.5},{"s":"obs_2","x":-0.5,"y":0.65},{"s":"obs_2","x":-0.15,"y":1.3},{"s":"obs_2","x":-0.02,"y":0.8},{"s":"obs_2","x":-2.0,"y":0.55},{"s":"obs_2","x":-1.5,"y":0.5},{"s":"obs_2","x":-2.8,"y":0.5},{"s":"obs_2","x":-3.2,"y":1.06},{"s":"obs_2","x":-3.8,"y":0.76},{"s":"obs_2","x":-4.4,"y":0.47},{"s":"obs_2","x":-4.9,"y":0.45},{"s":"obs_2","x":-5.68,"y":0.45},{"s":"obs_2","x":-6.17,"y":0.26},{"s":"obs_2","x":-7.15,"y":0.14},{"s":"obs_2","x":-8.2,"y":0.26},{"s":"obs_2","x":-8.74,"y":0.18},{"s":"obs_2","x":-5.2,"y":0.14},{"s":"obs_2","x":-0.6,"y":0.75},{"s":"obs_2","x":-0.9,"y":0.6},{"s":"obs_2","x":-1.3,"y":0.45},{"s":"obs_2","x":-2.3,"y":0.35},{"s":"obs_2","x":-3.5,"y":0.35},{"s":"obs_2","x":-4.1,"y":0.4},{"s":"obs_2","x":-0.75,"y":0.1},{"s":"obs_2","x":-1.9,"y":0.05},{"s":"obs_2","x":-3.0,"y":0.02},
{"s":"obs_2","x":-4.3,"y":0.15},{"s":"obs_2","x":-4.1,"y":0.25},{"s":"obs_2","x":-3.9,"y":0.05},{"s":"obs_2","x":-3.7,"y":0.3},{"s":"obs_2","x":-3.5,"y":0.1},{"s":"obs_2","x":-3.3,"y":0.05},{"s":"obs_2","x":-3.1,"y":0.2},{"s":"obs_2","x":-2.95,"y":0.3},{"s":"obs_2","x":-2.8,"y":0.1},{"s":"obs_2","x":-2.6,"y":0.2},{"s":"obs_2","x":-2.45,"y":0.3},{"s":"obs_2","x":-2.3,"y":0.1},{"s":"obs_2","x":-2.15,"y":0.2},{"s":"obs_2","x":-2.05,"y":0.4},{"s":"obs_2","x":-1.85,"y":0.3},{"s":"obs_2","x":-1.75,"y":0.05},{"s":"obs_2","x":-1.65,"y":0.2},{"s":"obs_2","x":-1.55,"y":0.1},{"s":"obs_2","x":-1.45,"y":0.28},{"s":"obs_2","x":-1.35,"y":0.35},{"s":"obs_2","x":-1.25,"y":0.2},{"s":"obs_2","x":-1.15,"y":0.05},{"s":"obs_2","x":-1.05,"y":0.25},{"s":"obs_2","x":-0.95,"y":0.35},{"s":"obs_2","x":-0.85,"y":0.2},{"s":"obs_2","x":-0.75,"y":0.3},{"s":"obs_2","x":-0.65,"y":0.5},{"s":"obs_2","x":-0.55,"y":0.3},{"s":"obs_2","x":-0.45,"y":0.2},{"s":"obs_2","x":-0.4,"y":0.4},{"s":"obs_2","x":-0.3,"y":0.5},{"s":"obs_2","x":-0.25,"y":0.15},{"s":"obs_2","x":-0.15,"y":0.55},{"s":"obs_2","x":-0.1,"y":0.7},{"s":"obs_2","x":-0.05,"y":0.9},{"s":"obs_2","x":-0.12,"y":1.1},{"s":"obs_2","x":-0.2,"y":0.25},{"s":"obs_2","x":-0.6,"y":0.6},{"s":"obs_2","x":-1.0,"y":0.45},{"s":"obs_2","x":-1.8,"y":0.15},{"s":"obs_2","x":-2.5,"y":0.45},{"s":"obs_2","x":-3.6,"y":0.45},{"s":"obs_2","x":-4.6,"y":0.25},{"s":"obs_2","x":-0.35,"y":1.0},{"s":"obs_2","x":-0.08,"y":1.6},{"s":"obs_2","x":-0.18,"y":0.35}
]
},
"hconcat": [
{
 "width": 528, "height": 411,
 "resolve": {"axis": {"x": "independent", "y": "independent"}},
 "layer": [
  {"data": {"name": "a"},
   "mark": {"type": "point", "shape": "M-1,0L1,0M0,-1L0,1M-0.71,-0.71L0.71,0.71M-0.71,0.71L0.71,-0.71", "filled": false, "size": 64, "strokeWidth": 1.2, "opacity": 0.9},
   "encoding": {
    "x": {"field": "x", "type": "quantitative", "scale": {"domain": [-15, 10], "nice": false, "zero": false}, "axis": {"values": [-15, -10, -5, 0, 5, 10], "title": "Tsoil_10cm (ᵒC)"}},
    "y": {"field": "y", "type": "quantitative", "scale": {"domain": [0, 6], "nice": false, "zero": false}, "axis": {"values": [0, 1, 2, 3, 4, 5, 6], "title": "Reco (gC m⁻² d⁻¹)"}},
    "color": {"field": "s", "type": "nominal", "scale": {"domain": ["model", "obs_1", "obs_2"], "range": ["#0000ff", "#000000", "#ff0000"]}, "legend": {"title": null, "legendX": 7, "legendY": 11}}
   }},
  {"data": {"values": [{}]},
   "mark": {"type": "rule", "strokeDash": [4, 3], "color": "#000000", "strokeWidth": 1},
   "encoding": {"x": {"datum": 0, "type": "quantitative", "scale": {"domain": [-15, 10], "nice": false, "zero": false}, "axis": {"orient": "top", "labels": false, "title": null, "values": [-15, -10, -5, 0, 5, 10]}}}},
  {"data": {"values": [{}]},
   "mark": {"type": "text", "text": "(a)", "align": "left", "baseline": "middle", "fontSize": 21, "fontWeight": "bold", "clip": false},
   "encoding": {
    "x": {"datum": -17.84, "type": "quantitative", "scale": {"domain": [-15, 10], "nice": false, "zero": false}, "axis": null},
    "y": {"datum": 6.29, "type": "quantitative", "scale": {"domain": [0, 6], "nice": false, "zero": false}, "axis": {"orient": "right", "labels": false, "title": null, "values": [0, 1, 2, 3, 4, 5, 6]}}}},
  {"data": {"values": [{}]},
   "mark": {"type": "text", "text": "Tsoil vs Reco", "align": "center", "baseline": "middle", "fontSize": 20, "fontWeight": "bold", "clip": false},
   "encoding": {
    "x": {"datum": -2.5, "type": "quantitative", "scale": {"domain": [-15, 10], "nice": false, "zero": false}, "axis": null},
    "y": {"datum": 6.26, "type": "quantitative", "scale": {"domain": [0, 6], "nice": false, "zero": false}, "axis": null}}}
 ]
},
{
 "width": 529, "height": 411,
 "resolve": {"axis": {"x": "independent", "y": "independent"}},
 "layer": [
  {"data": {"name": "b"},
   "mark": {"type": "point", "shape": "M-1,0L1,0M0,-1L0,1M-0.71,-0.71L0.71,0.71M-0.71,0.71L0.71,-0.71", "filled": false, "size": 64, "strokeWidth": 1.2, "opacity": 0.9},
   "encoding": {
    "x": {"field": "x", "type": "quantitative", "scale": {"domain": [-10, 10], "nice": false, "zero": false}, "axis": {"values": [-10, -5, 0, 5, 10], "title": "Tsoil_10cm (ᵒC)"}},
    "y": {"field": "y", "type": "quantitative", "scale": {"domain": [0, 5], "nice": false, "zero": false}, "axis": {"values": [0, 1, 2, 3, 4, 5], "title": "Reco (gC m⁻² d⁻¹)"}},
    "color": {"field": "s", "type": "nominal", "scale": {"domain": ["model", "obs_1", "obs_2"], "range": ["#0000ff", "#000000", "#ff0000"]}, "legend": {"title": null, "legendX": 25, "legendY": 13}}
   }},
  {"data": {"values": [{}]},
   "mark": {"type": "rule", "strokeDash": [4, 3], "color": "#000000", "strokeWidth": 1},
   "encoding": {"x": {"datum": 0, "type": "quantitative", "scale": {"domain": [-10, 10], "nice": false, "zero": false}, "axis": {"orient": "top", "labels": false, "title": null, "values": [-10, -5, 0, 5, 10]}}}},
  {"data": {"values": [{}]},
   "mark": {"type": "text", "text": "(b)", "align": "left", "baseline": "middle", "fontSize": 21, "fontWeight": "bold", "clip": false},
   "encoding": {
    "x": {"datum": -12.34, "type": "quantitative", "scale": {"domain": [-10, 10], "nice": false, "zero": false}, "axis": null},
    "y": {"datum": 5.24, "type": "quantitative", "scale": {"domain": [0, 5], "nice": false, "zero": false}, "axis": {"orient": "right", "labels": false, "title": null, "values": [0, 1, 2, 3, 4, 5]}}}},
  {"data": {"values": [{}]},
   "mark": {"type": "text", "text": "Tsoil vs Reco", "align": "center", "baseline": "middle", "fontSize": 20, "fontWeight": "bold", "clip": false},
   "encoding": {
    "x": {"datum": 0, "type": "quantitative", "scale": {"domain": [-10, 10], "nice": false, "zero": false}, "axis": null},
    "y": {"datum": 5.22, "type": "quantitative", "scale": {"domain": [0, 5], "nice": false, "zero": false}, "axis": null}}}
 ]
}
]
}
